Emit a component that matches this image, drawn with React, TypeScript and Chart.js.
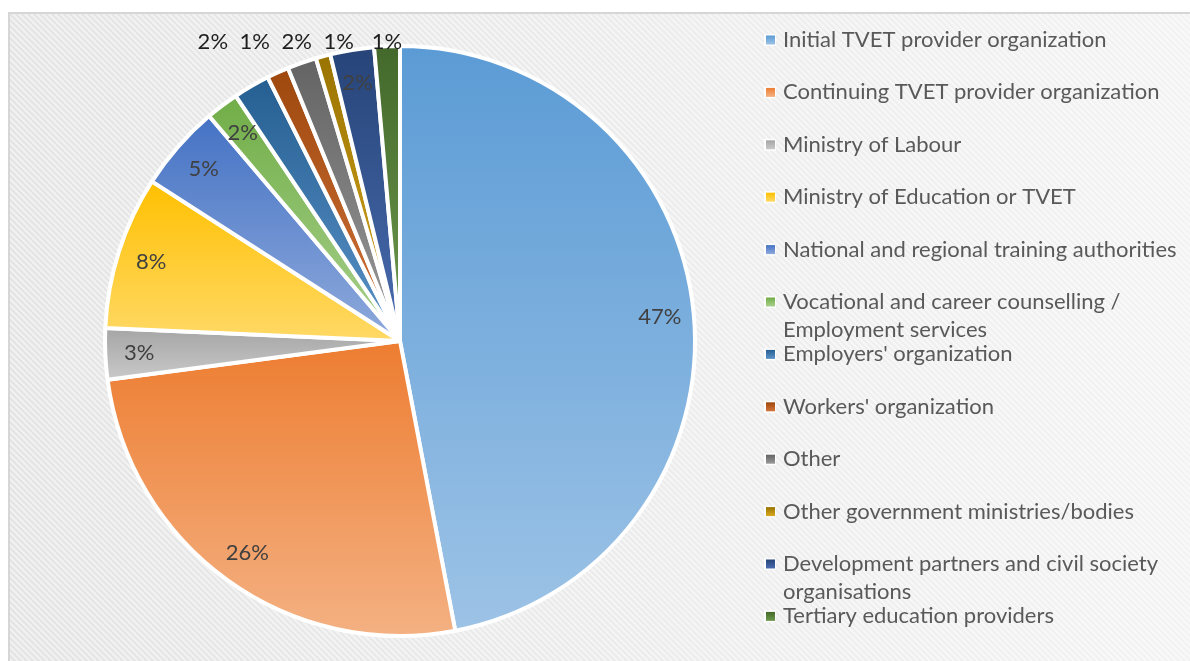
import React, { useEffect, useRef } from "react";
import { Chart, registerables } from "chart.js";

Chart.register(...registerables);

// ---- data ----
const categories = [
  "Initial TVET provider organization",
  "Continuing TVET provider organization",
  "Ministry of Labour",
  "Ministry of Education or TVET",
  "National and regional training authorities",
  "Vocational and career counselling / Employment services",
  "Employers' organization",
  "Workers' organization",
  "Other",
  "Other government ministries/bodies",
  "Development partners and civil society organisations",
  "Tertiary education providers",
];
const shares = [47, 25.9, 2.8, 8.4, 4.7, 1.8, 2.0, 1.2, 1.6, 0.8, 2.4, 1.4];

// categories whose percentage label sits above the pie
const outsideLabelled = [
  "Employers' organization",
  "Workers' organization",
  "Other",
  "Other government ministries/bodies",
  "Tertiary education providers",
];

// ---- styles ----
const topColors = [
  "#5B9BD5", "#ED7D31", "#A5A5A5", "#FFC000", "#4472C4", "#70AD47",
  "#255E91", "#9E480E", "#636363", "#997300", "#264478", "#43682B",
];
const bottomColors = [
  "#9DC3E6", "#F4B183", "#C9C9C9", "#FFD966", "#8FAADC", "#A9D18E",
  "#5B93C8", "#D2743A", "#9A9A9A", "#D9A920", "#4A6CB0", "#6E9A4E",
];
const FONT = "Lato, 'Open Sans', sans-serif";
const FS = 22;

function sliceBox(cx: number, cy: number, r: number, a0: number, a1: number) {
  let minY = Math.min(cy, cy + r * Math.sin(a0), cy + r * Math.sin(a1));
  let maxY = Math.max(cy, cy + r * Math.sin(a0), cy + r * Math.sin(a1));
  for (let n = -2; n <= 2; n++) {
    const top = -Math.PI / 2 + 2 * Math.PI * n;
    const bot = Math.PI / 2 + 2 * Math.PI * n;
    if (top >= a0 && top <= a1) minY = cy - r;
    if (bot >= a0 && bot <= a1) maxY = cy + r;
  }
  return { minY, maxY };
}

function sliceFill(c: any) {
  const chart = c.chart;
  const i = c.dataIndex;
  const area = chart.chartArea;
  if (!area || i === undefined) return topColors[i ?? 0];
  const cx = (area.left + area.right) / 2;
  const cy = (area.top + area.bottom) / 2;
  const r = Math.min(area.right - area.left, area.bottom - area.top) / 2;
  const total = shares.reduce((a, b) => a + b, 0);
  let cum = 0;
  for (let k = 0; k < i; k++) cum += shares[k];
  const a0 = -Math.PI / 2 + (2 * Math.PI * cum) / total;
  const a1 = -Math.PI / 2 + (2 * Math.PI * (cum + shares[i])) / total;
  const { minY, maxY } = sliceBox(cx, cy, r, a0, a1);
  const g = chart.ctx.createLinearGradient(0, minY, 0, Math.max(maxY, minY + 1));
  g.addColorStop(0, topColors[i]);
  g.addColorStop(1, bottomColors[i]);
  return g;
}

const backgroundPlugin = {
  id: "bgPanel",
  beforeDraw(chart: any) {
    const c = chart.ctx;
    const W = chart.width;
    const H = chart.height;
    c.save();
    c.fillStyle = "#ffffff";
    c.fillRect(0, 0, W, H);
    const x0 = 9, y0 = 13;
    const g = c.createLinearGradient(x0, 0, W, 0);
    g.addColorStop(0, "#e4e4e4");
    g.addColorStop(1, "#f3f3f3");
    c.fillStyle = g;
    c.fillRect(x0, y0, W - x0, H - y0);
    c.beginPath();
    c.rect(x0, y0, W - x0, H - y0);
    c.clip();
    c.strokeStyle = "rgba(255,255,255,0.5)";
    c.lineWidth = 2;
    const span = H - y0;
    for (let k = -span; k < W; k += 6) {
      c.beginPath();
      c.moveTo(k, y0);
      c.lineTo(k + span, y0 + span);
      c.stroke();
    }
    c.restore();
    c.save();
    c.strokeStyle = "#d6d6d6";
    c.lineWidth = 2;
    c.beginPath();
    c.moveTo(x0, H + 2);
    c.lineTo(x0, y0);
    c.lineTo(W + 2, y0);
    c.stroke();
    c.restore();
  },
};

const labelPlugin = {
  id: "pctLabels",
  afterDatasetsDraw(chart: any) {
    const c = chart.ctx;
    const meta = chart.getDatasetMeta(0);
    const data = chart.data.datasets[0].data as number[];
    const total = data.reduce((a, b) => a + b, 0);
    c.save();
    c.font = `${FS}px ${FONT}`;
    c.textAlign = "center";
    c.textBaseline = "middle";
    const outside: { x: number; text: string }[] = [];
    let lineY = 0;
    meta.data.forEach((arc: any, i: number) => {
      const p = arc.getProps(["x", "y", "startAngle", "endAngle", "outerRadius"], true);
      const mid = (p.startAngle + p.endAngle) / 2;
      const text = Math.round((data[i] / total) * 100) + "%";
      if (outsideLabelled.includes(chart.data.labels[i])) {
        lineY = p.y - p.outerRadius - 4;
        const dy = p.y - lineY;
        const x = p.x + (dy * Math.cos(mid)) / -Math.sin(mid);
        outside.push({ x, text });
      } else {
        const r = p.outerRadius * 0.885;
        c.fillStyle = "#404040";
        c.fillText(text, p.x + r * Math.cos(mid), p.y + r * Math.sin(mid));
      }
    });
    outside.sort((a, b) => a.x - b.x);
    const gap = 42;
    for (let it = 0; it < 300; it++) {
      let moved = false;
      for (let k = 0; k < outside.length - 1; k++) {
        const d = outside[k + 1].x - outside[k].x;
        if (d < gap - 0.01) {
          const s = (gap - d) / 2;
          outside[k].x -= s;
          outside[k + 1].x += s;
          moved = true;
        }
      }
      if (!moved) break;
    }
    c.fillStyle = "#1e1e1e";
    outside.forEach((o) => c.fillText(o.text, o.x, lineY));
    c.restore();
  },
};

function wrap(c: any, text: string, maxW: number) {
  const words = text.split(" ");
  const lines: string[] = [];
  let cur = "";
  words.forEach((w) => {
    const t = cur ? cur + " " + w : w;
    if (c.measureText(t).width > maxW && cur) {
      lines.push(cur);
      cur = w;
    } else cur = t;
  });
  if (cur) lines.push(cur);
  return lines;
}

const legendPlugin = {
  id: "sideLegend",
  afterDraw(chart: any) {
    const c = chart.ctx;
    const labels = chart.data.labels as string[];
    const top = 40;
    const step = 52.4;
    const textX = 783;
    c.save();
    c.font = `${FS}px ${FONT}`;
    c.textAlign = "left";
    c.textBaseline = "middle";
    labels.forEach((lab, i) => {
      const y = top + i * step;
      c.fillStyle = "rgba(255,255,255,0.9)";
      c.fillRect(764, y - 6, 12, 12);
      const g = c.createLinearGradient(0, y - 4.5, 0, y + 4.5);
      g.addColorStop(0, topColors[i]);
      g.addColorStop(1, bottomColors[i]);
      c.fillStyle = g;
      c.fillRect(766, y - 4.5, 9, 9);
      c.fillStyle = "#595959";
      const lines = wrap(c, lab, 1188 - textX);
      lines.forEach((ln, j) => c.fillText(ln, textX, y + j * 28));
    });
    c.restore();
  },
};

export default function App() {
  const ref = useRef<HTMLCanvasElement>(null);
  useEffect(() => {
    document.body.style.margin = "0";
    if (!ref.current) return;
    const chart = new Chart(ref.current, {
      type: "pie",
      data: {
        labels: categories,
        datasets: [
          {
            data: shares,
            backgroundColor: sliceFill as any,
            borderColor: "#ffffff",
            borderWidth: 4,
          },
        ],
      },
      options: {
        animation: false,
        responsive: true,
        maintainAspectRatio: false,
        layout: { padding: { left: 100, right: 490, top: 44, bottom: 23 } },
        plugins: {
          legend: { display: false },
          tooltip: { enabled: false },
        },
      },
      plugins: [backgroundPlugin, labelPlugin, legendPlugin],
    });
    return () => chart.destroy();
  }, []);
  return (
    <div style={{ width: 1190, height: 661, position: "relative" }}>
      <canvas ref={ref} />
    </div>
  );
}
